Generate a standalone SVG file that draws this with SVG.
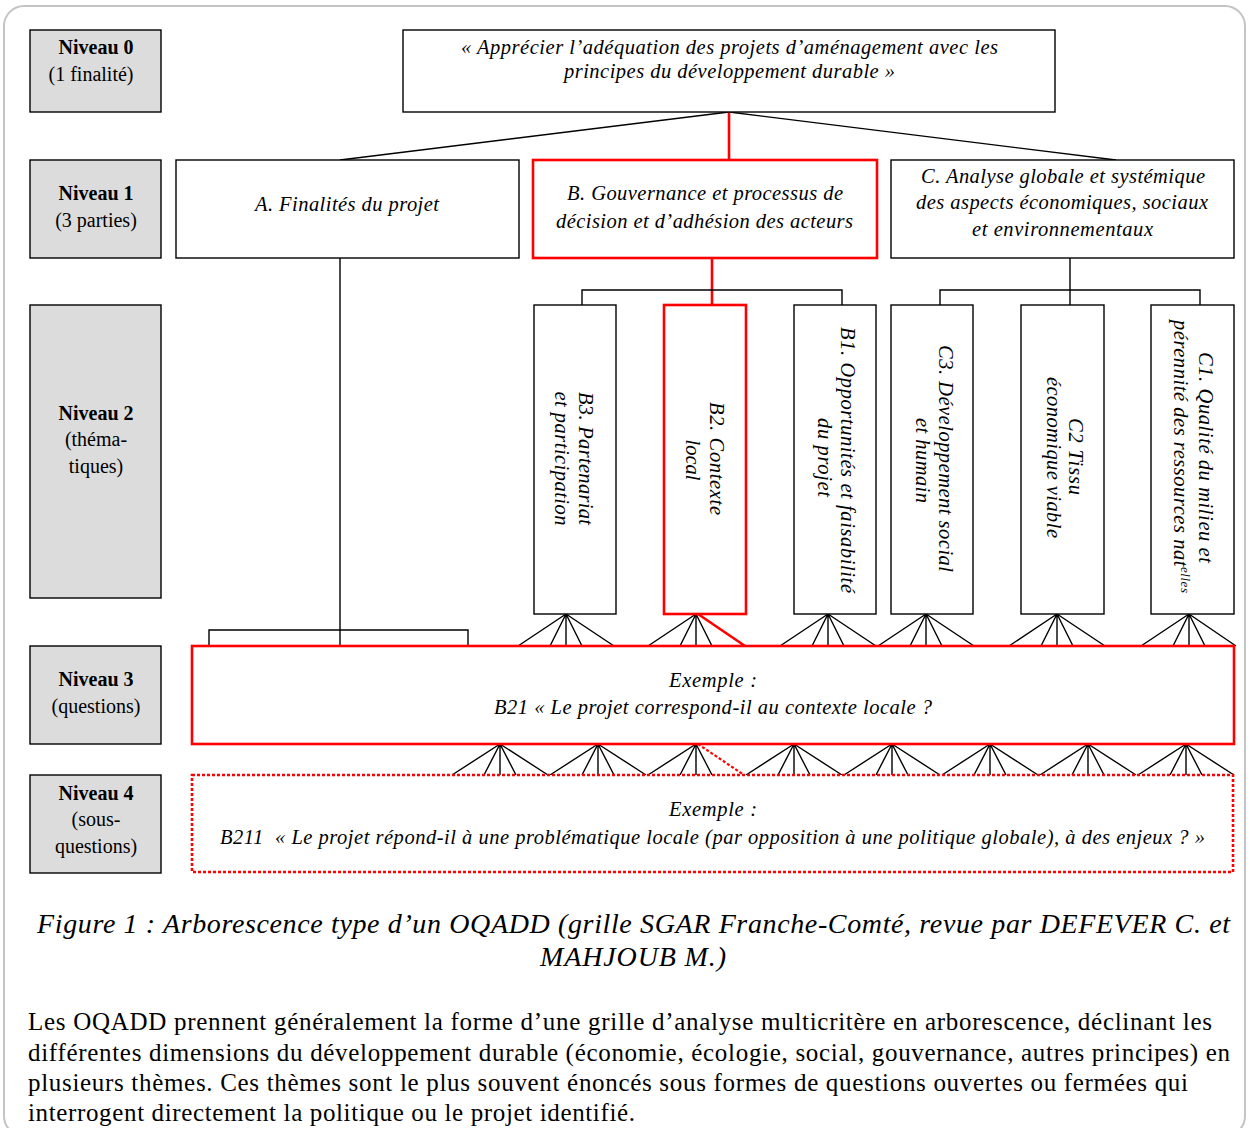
<svg xmlns="http://www.w3.org/2000/svg" width="1250" height="1128" viewBox="0 0 1250 1128">
<style>
text{font-family:"Liberation Serif","Times New Roman",serif;fill:#000}
.it{font-style:italic;font-size:20.5px}
.lab{font-size:20px;text-anchor:middle}
.b{font-weight:bold}
.c{text-anchor:middle}
.box{fill:#fff;stroke:#000;stroke-width:1.4}
.gray{fill:#dcdcdc;stroke:#000;stroke-width:1.4}
.red{fill:#fff;stroke:#ff0000;stroke-width:2.6}
.reddot{fill:#fff;stroke:#ff0000;stroke-width:2.6;stroke-dasharray:3 2}
.ln{fill:none;stroke:#000;stroke-width:1.4}
.rl{fill:none;stroke:#ff0000;stroke-width:2.6}
.rd{fill:none;stroke:#ff0000;stroke-width:2.2;stroke-dasharray:3 2}
.cap{font-style:italic;font-size:28px}
.par{font-size:25px}
</style>
<rect x="4" y="6" width="1241" height="1130" rx="20" fill="#fff" stroke="#c4c4c4" stroke-width="2"/>

<g id="labels">
<g id="niveau0"><rect class="gray" x="30" y="30" width="131" height="82"/><text class="lab b" x="96" y="54">Niveau 0</text><text class="lab" x="91" y="81">(1 finalité)</text></g>
<g id="niveau1"><rect class="gray" x="30" y="160" width="131" height="98"/><text class="lab b" x="96" y="200">Niveau 1</text><text class="lab" x="96" y="227">(3 parties)</text></g>
<g id="niveau2"><rect class="gray" x="30" y="305" width="131" height="293"/><text class="lab b" x="96" y="420">Niveau 2</text><text class="lab" x="96" y="446">(théma-</text><text class="lab" x="96" y="473">tiques)</text></g>
<g id="niveau3"><rect class="gray" x="30" y="646" width="131" height="98"/><text class="lab b" x="96" y="686">Niveau 3</text><text class="lab" x="96" y="713">(questions)</text></g>
<g id="niveau4"><rect class="gray" x="30" y="775" width="131" height="98"/><text class="lab b" x="96" y="800">Niveau 4</text><text class="lab" x="96" y="826">(sous-</text><text class="lab" x="96" y="853">questions)</text></g>
</g>

<g id="connectors">
<path class="ln" d="M729,112 L340,160 M729,112 L1116,160"/>
<path class="rl" d="M729,112 V160"/>
<path class="ln" d="M340,258 V646 M209,646 V630 H468 V646"/>
<path class="rl" d="M712,258 V305"/>
<path class="ln" d="M582,305 V290 H842 V305"/>
<path class="ln" d="M1070,258 V305 M940,305 V290 H1200 V305"/>
<path class="ln" d="M566,614 L518,646 M566,614 L550,646 M566,614 V646 M566,614 L582,646 M566,614 L614,646"/>
<path class="ln" d="M696,614 L648,646 M696,614 L680,646 M696,614 V646 M696,614 L712,646"/>
<path class="rl" d="M698,614 L745,646"/>
<path class="ln" d="M828,614 L780,646 M828,614 L812,646 M828,614 V646 M828,614 L844,646 M828,614 L876,646"/>
<path class="ln" d="M926,614 L878,646 M926,614 L910,646 M926,614 V646 M926,614 L942,646 M926,614 L974,646"/>
<path class="ln" d="M1057,614 L1009,646 M1057,614 L1041,646 M1057,614 V646 M1057,614 L1073,646 M1057,614 L1105,646"/>
<path class="ln" d="M1189,614 L1141,646 M1189,614 L1173,646 M1189,614 V646 M1189,614 L1205,646 M1189,614 L1236,646"/>
<path class="ln" d="M500,744 L452,775 M500,744 L484,775 M500,744 V775 M500,744 L516,775 M500,744 L548,775"/>
<path class="ln" d="M598,744 L550,775 M598,744 L582,775 M598,744 V775 M598,744 L614,775 M598,744 L646,775"/>
<path class="ln" d="M696,744 L648,775 M696,744 L680,775 M696,744 V775 M696,744 L712,775"/>
<path class="rd" d="M698,744 L744,775"/>
<path class="ln" d="M794,744 L746,775 M794,744 L778,775 M794,744 V775 M794,744 L810,775 M794,744 L842,775"/>
<path class="ln" d="M892,744 L844,775 M892,744 L876,775 M892,744 V775 M892,744 L908,775 M892,744 L940,775"/>
<path class="ln" d="M990,744 L942,775 M990,744 L974,775 M990,744 V775 M990,744 L1006,775 M990,744 L1038,775"/>
<path class="ln" d="M1088,744 L1040,775 M1088,744 L1072,775 M1088,744 V775 M1088,744 L1104,775 M1088,744 L1136,775"/>
<path class="ln" d="M1186,744 L1138,775 M1186,744 L1170,775 M1186,744 V775 M1186,744 L1202,775 M1186,744 L1234,775"/>
</g>

<g id="root"><rect class="box" x="403" y="30" width="652" height="82"/>
<text class="it c" x="729.5" y="54" textLength="537" lengthAdjust="spacing">« Apprécier l’adéquation des projets d’aménagement avec les</text>
<text class="it c" x="729.5" y="78" textLength="331" lengthAdjust="spacing">principes du développement durable »</text></g>

<g id="A"><rect class="box" x="176" y="160" width="343" height="98"/>
<text class="it c" x="347" y="211" textLength="184" lengthAdjust="spacing">A. Finalités du projet</text></g>
<g id="B"><rect class="red" x="533" y="160" width="344" height="98"/>
<text class="it c" x="705" y="200" textLength="276" lengthAdjust="spacing">B. Gouvernance et processus de</text>
<text class="it c" x="704.5" y="228" textLength="297" lengthAdjust="spacing">décision et d’adhésion des acteurs</text></g>
<g id="C"><rect class="box" x="891" y="160" width="343" height="98"/>
<text class="it c" x="1063" y="183" textLength="284" lengthAdjust="spacing">C. Analyse globale et systémique</text>
<text class="it c" x="1062" y="209" textLength="292" lengthAdjust="spacing">des aspects économiques, sociaux</text>
<text class="it c" x="1062.5" y="236" textLength="181" lengthAdjust="spacing">et environnementaux</text></g>

<g id="B3"><rect class="box" x="534" y="305" width="82" height="309"/>
<text class="it c" transform="translate(579,458.5) rotate(90)" textLength="133" lengthAdjust="spacing">B3. Partenariat</text>
<text class="it c" transform="translate(555,458.5) rotate(90)" textLength="134" lengthAdjust="spacing">et participation</text></g>
<g id="B2"><rect class="red" x="664" y="305" width="82" height="309"/>
<text class="it c" transform="translate(710,458.5) rotate(90)" textLength="113" lengthAdjust="spacing">B2. Contexte</text>
<text class="it c" transform="translate(686,460) rotate(90)">local</text></g>
<g id="B1"><rect class="box" x="794" y="305" width="82" height="309"/>
<text class="it c" transform="translate(841,460) rotate(90)" textLength="266" lengthAdjust="spacing">B1. Opportunités et faisabilité</text>
<text class="it c" transform="translate(818,457.5) rotate(90)" textLength="79" lengthAdjust="spacing">du projet</text></g>
<g id="C3"><rect class="box" x="891" y="305" width="82" height="309"/>
<text class="it c" transform="translate(939,458.5) rotate(90)" textLength="227" lengthAdjust="spacing">C3. Développement social</text>
<text class="it c" transform="translate(916,460.5) rotate(90)" textLength="85" lengthAdjust="spacing">et humain</text></g>
<g id="C2"><rect class="box" x="1021" y="305" width="83" height="309"/>
<text class="it c" transform="translate(1069,456.5) rotate(90)" textLength="77" lengthAdjust="spacing">C2 Tissu</text>
<text class="it c" transform="translate(1047,457.5) rotate(90)" textLength="161" lengthAdjust="spacing">économique viable</text></g>
<g id="C1"><rect class="box" x="1151" y="305" width="83" height="309"/>
<text class="it c" transform="translate(1199,457.5) rotate(90)" textLength="211" lengthAdjust="spacing">C1. Qualité du milieu et</text>
<text class="it c" transform="translate(1174,456.5) rotate(90)" textLength="273" lengthAdjust="spacing">pérennité des ressources nat<tspan font-size="13" dy="-7">elles</tspan></text></g>

<g id="niveau3-box"><rect class="red" x="192" y="646" width="1042" height="98" stroke-width="3"/>
<text class="it c" x="713" y="687" textLength="88" lengthAdjust="spacing">Exemple :</text>
<text class="it c" x="713" y="714" textLength="438" lengthAdjust="spacing">B21 « Le projet correspond-il au contexte locale ?</text></g>
<g id="niveau4-box"><rect class="reddot" x="192" y="775" width="1041" height="97"/>
<text class="it c" x="713" y="816" textLength="88" lengthAdjust="spacing">Exemple :</text>
<text class="it c" x="712.5" y="844" textLength="985" lengthAdjust="spacing" xml:space="preserve">B211  « Le projet répond-il à une problématique locale (par opposition à une politique globale), à des enjeux ? »</text></g>

<g id="caption">
<text class="cap c" x="633.5" y="933" textLength="1193" lengthAdjust="spacing">Figure 1 : Arborescence type d’un OQADD (grille SGAR Franche-Comté, revue par DEFEVER C. et</text>
<text class="cap c" x="633" y="966" textLength="186" lengthAdjust="spacing">MAHJOUB M.)</text>
</g>
<g id="paragraph">
<text class="par" x="28" y="1030" textLength="1184" lengthAdjust="spacing">Les OQADD prennent généralement la forme d’une grille d’analyse multicritère en arborescence, déclinant les</text>
<text class="par" x="28" y="1061" textLength="1202" lengthAdjust="spacing">différentes dimensions du développement durable (économie, écologie, social, gouvernance, autres principes) en</text>
<text class="par" x="28" y="1091" textLength="1160" lengthAdjust="spacing">plusieurs thèmes. Ces thèmes sont le plus souvent énoncés sous formes de questions ouvertes ou fermées qui</text>
<text class="par" x="28" y="1121" textLength="607" lengthAdjust="spacing">interrogent directement la politique ou le projet identifié.</text>
</g>
</svg>
